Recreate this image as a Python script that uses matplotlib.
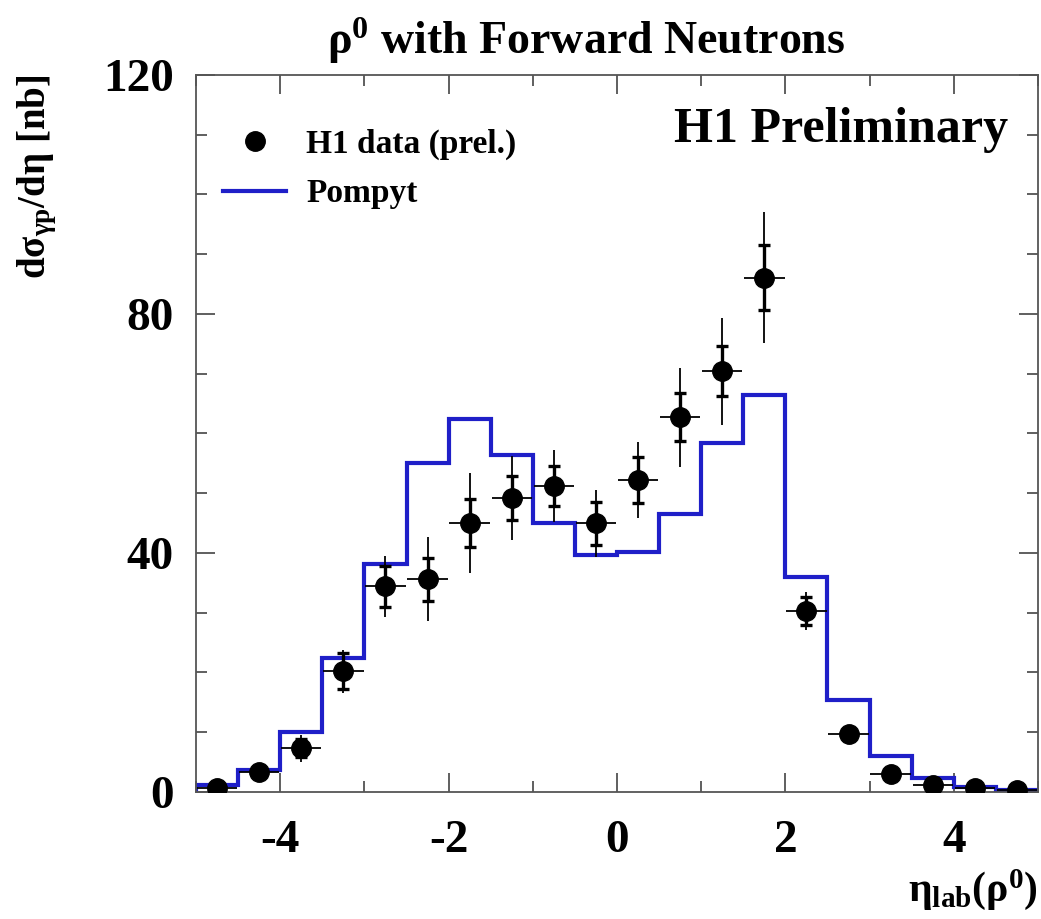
import matplotlib
matplotlib.use("Agg")
import matplotlib.pyplot as plt
from matplotlib.lines import Line2D
from matplotlib.ticker import MultipleLocator
import numpy as np

plt.rcParams['font.family'] = ['Liberation Serif', 'DejaVu Serif']
plt.rcParams['font.weight'] = 'bold'
plt.rcParams['axes.labelweight'] = 'bold'
plt.rcParams['axes.unicode_minus'] = False
plt.rcParams['mathtext.fontset'] = 'custom'
plt.rcParams['mathtext.rm'] = 'Liberation Serif:bold'
plt.rcParams['mathtext.it'] = 'Liberation Serif:italic:bold'
plt.rcParams['mathtext.bf'] = 'Liberation Serif:bold'
plt.rcParams['mathtext.default'] = 'rm'

# eta bins (0.5 wide)
bin_edges = [-5.0, -4.5, -4.0, -3.5, -3.0, -2.5, -2.0, -1.5, -1.0, -0.5, 0.0,
             0.5, 1.0, 1.5, 2.0, 2.5, 3.0, 3.5, 4.0, 4.5, 5.0]
eta = [-4.75, -4.25, -3.75, -3.25, -2.75, -2.25, -1.75, -1.25, -0.75, -0.25,
       0.25, 0.75, 1.25, 1.75, 2.25, 2.75, 3.25, 3.75, 4.25, 4.75]

# H1 data (prel.)
data_val = [0.7, 3.4, 7.3, 20.2, 34.4, 35.6, 45.0, 49.2, 51.2, 45.0,
            52.2, 62.7, 70.4, 86.1, 30.3, 9.7, 3.0, 1.1, 0.6, 0.4]
err_tot = [0.5, 1.0, 2.2, 3.6, 5.1, 7.0, 8.4, 7.1, 6.0, 5.6,
           6.4, 8.3, 9.0, 11.0, 3.2, 1.3, 0.8, 0.5, 0.3, 0.2]
err_stat = [0.3, 0.7, 1.5, 3.0, 3.5, 3.6, 4.0, 3.7, 3.4, 3.6,
            3.8, 4.0, 4.2, 5.5, 2.4, 1.0, 0.6, 0.4, 0.2, 0.15]
eta_halfwidth = 0.24

# Pompyt prediction
pompyt = [1.2, 3.6, 10.0, 22.4, 38.2, 55.0, 62.5, 56.4, 45.0, 39.6,
          40.2, 46.5, 58.4, 66.4, 36.0, 15.4, 6.0, 2.3, 0.9, 0.3]

fig = plt.figure(figsize=(10.41, 9.19), dpi=100)
ax = fig.add_axes([0.1883, 0.1382, 0.8088, 0.7802])

blue = '#1f1fc8'
ax.stairs(pompyt, bin_edges, color=blue, lw=3.0, zorder=2)

# total errors (thin, no caps) and statistical errors (with caps)
ax.errorbar(eta, data_val, yerr=err_tot, xerr=eta_halfwidth, fmt='none',
            ecolor='black', elinewidth=1.3, zorder=3)
ax.errorbar(eta, data_val, yerr=err_stat, fmt='none', ecolor='black',
            elinewidth=2.4, capsize=4.5, capthick=2.4, zorder=3)
ax.plot(eta, data_val, 'o', color='black', ms=14, zorder=4)

ax.set_xlim(-5, 5)
ax.set_ylim(0, 120)
ax.xaxis.set_major_locator(MultipleLocator(2))
ax.xaxis.set_minor_locator(MultipleLocator(1))
ax.yaxis.set_major_locator(MultipleLocator(40))
ax.yaxis.set_minor_locator(MultipleLocator(10))
ax.tick_params(which='both', direction='in', top=True, right=True,
               color='#444444', width=1.2)
ax.tick_params(which='major', length=14)
ax.tick_params(which='minor', length=8)
ax.tick_params(axis='x', which='major', labelsize=34, pad=20)
ax.tick_params(axis='y', which='major', labelsize=34, pad=16)
for s in ax.spines.values():
    s.set_color('#555555')
    s.set_linewidth(1.3)

ax.set_ylabel(r'd$\sigma_{\gamma p}$/d$\eta$ [nb]', fontsize=28, loc='top',
              labelpad=32)
ax.set_xlabel(r'$\eta_{\rm lab}(\rho^0)$', fontsize=30, loc='right',
              labelpad=4)

fig.text(0.563, 0.956, r'$\rho^0$ with Forward Neutrons', fontsize=33,
         ha='center', va='center')
ax.text(0.964, 0.923, 'H1 Preliminary', transform=ax.transAxes,
        fontsize=36, ha='right', va='center')

handles = [Line2D([], [], marker='o', color='black', ls='none', ms=14),
           Line2D([], [], color=blue, lw=3.0)]
ax.legend(handles, ['H1 data (prel.)', 'Pompyt'], loc='upper left',
          bbox_to_anchor=(0.032, 0.925), frameon=False, fontsize=24,
          borderpad=0, borderaxespad=0, handlelength=1.9,
          handletextpad=0.6, labelspacing=0.55)

fig.savefig('out.png', dpi=100)
